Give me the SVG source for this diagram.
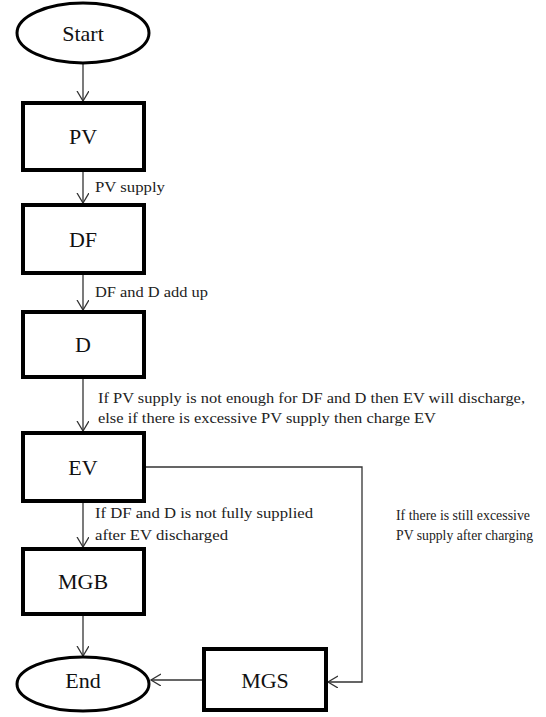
<svg xmlns="http://www.w3.org/2000/svg" width="546" height="717" viewBox="0 0 546 717">
  <style>
    .box { fill: #fff; stroke: #000; stroke-width: 4; }
    .term { fill: #fff; stroke: #000; stroke-width: 3; }
    .lbl { font-family: 'Liberation Serif', 'DejaVu Serif', serif; font-size: 22px; fill: #111; text-anchor: middle; }
    .note { font-family: 'Liberation Serif', 'DejaVu Serif', serif; font-size: 15px; fill: #222; }
    .edge { fill: none; stroke: #333; stroke-width: 1.3; }
  </style>
  <defs>
    <marker id="arr" markerUnits="userSpaceOnUse" markerWidth="14" markerHeight="14" refX="10" refY="6" orient="auto">
      <path d="M0,0 L10,6 L0,12" fill="none" stroke="#333" stroke-width="1.3"/>
    </marker>
  </defs>

  <g id="connectors">
    <line class="edge" x1="83" y1="63" x2="83" y2="101" marker-end="url(#arr)"/>
    <line class="edge" x1="83" y1="170" x2="83" y2="203" marker-end="url(#arr)"/>
    <line class="edge" x1="83" y1="273" x2="83" y2="310" marker-end="url(#arr)"/>
    <line class="edge" x1="83" y1="377" x2="83" y2="431" marker-end="url(#arr)"/>
    <line class="edge" x1="83" y1="501" x2="83" y2="547" marker-end="url(#arr)"/>
    <line class="edge" x1="83" y1="614" x2="83" y2="656" marker-end="url(#arr)"/>
    <polyline class="edge" points="144,467 362,467 362,682 328,682" marker-end="url(#arr)"/>
    <line class="edge" x1="204" y1="680" x2="151" y2="680" marker-end="url(#arr)"/>

    <text class="note" x="95" y="192" textLength="70" lengthAdjust="spacingAndGlyphs">PV supply</text>
    <text class="note" x="95" y="297" textLength="113" lengthAdjust="spacingAndGlyphs">DF and D add up</text>
    <text class="note" x="98" y="403" textLength="427" lengthAdjust="spacingAndGlyphs">If PV supply is not enough for DF and D then EV will discharge,</text>
    <text class="note" x="98" y="423" textLength="338" lengthAdjust="spacingAndGlyphs">else if there is excessive PV supply then charge EV</text>
    <text class="note" x="95" y="518" textLength="218" lengthAdjust="spacingAndGlyphs">If DF and D is not fully supplied</text>
    <text class="note" x="95" y="540" textLength="133" lengthAdjust="spacingAndGlyphs">after EV discharged</text>
    <text class="note" x="396" y="520" textLength="134" lengthAdjust="spacingAndGlyphs">If there is still excessive</text>
    <text class="note" x="396" y="540" textLength="137" lengthAdjust="spacingAndGlyphs">PV supply after charging</text>
  </g>

  <g id="start">
    <ellipse class="term" cx="83" cy="33" rx="66" ry="30"/>
    <text class="lbl" x="83" y="41">Start</text>
  </g>
  <g id="pv">
    <rect class="box" x="23" y="103" width="121" height="67"/>
    <text class="lbl" x="83" y="144">PV</text>
  </g>
  <g id="df">
    <rect class="box" x="23" y="205" width="121" height="68"/>
    <text class="lbl" x="83" y="247">DF</text>
  </g>
  <g id="d">
    <rect class="box" x="23" y="312" width="121" height="65"/>
    <text class="lbl" x="83" y="352">D</text>
  </g>
  <g id="ev">
    <rect class="box" x="23" y="433" width="121" height="68"/>
    <text class="lbl" x="83" y="475">EV</text>
  </g>
  <g id="mgb">
    <rect class="box" x="23" y="549" width="121" height="65"/>
    <text class="lbl" x="83" y="589">MGB</text>
  </g>
  <g id="end">
    <ellipse class="term" cx="83" cy="684" rx="66" ry="27"/>
    <text class="lbl" x="83" y="688">End</text>
  </g>
  <g id="mgs">
    <rect class="box" x="204" y="649" width="122" height="61"/>
    <text class="lbl" x="265" y="688">MGS</text>
  </g>
</svg>
